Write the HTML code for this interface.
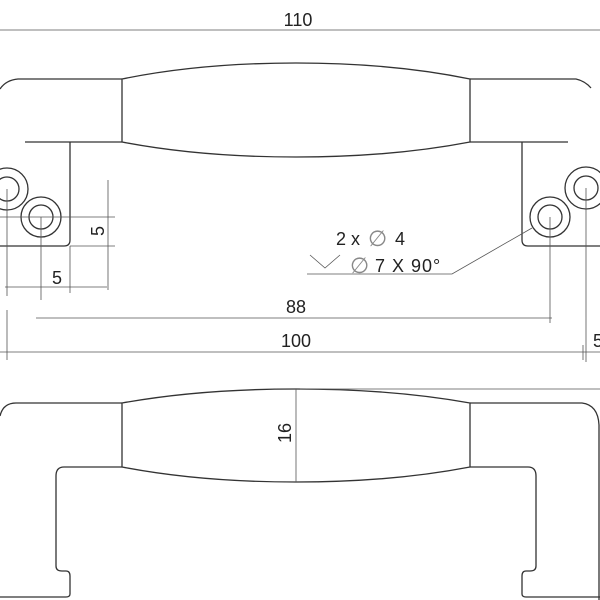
<!DOCTYPE html>
<html><head><meta charset="utf-8"><style>
html,body{margin:0;padding:0;background:#fff;width:600px;height:600px;overflow:hidden}
svg{display:block}
text{font-family:"Liberation Sans",sans-serif;fill:#222;font-size:18px}
</style></head><body>
<svg width="600" height="600" viewBox="0 0 600 600">
<g fill="none" stroke="#333" stroke-width="1.3">
<path d="M0,89 Q6,80 18,79 L122,79 M470,79 L576,79 Q585,81 591,88"/>
<path d="M122,79 Q200,63 296,63 Q392,63 470,79 L470,142 Q392,157 296,157 Q200,157 122,142 Z"/>
<path d="M25,142 L122,142 M470,142 L568,142"/>
<path d="M70,142 L70,240 Q70,246 64,246 L0,246"/>
<path d="M522,142 L522,240 Q522,246 528,246 L600,246"/>
<circle cx="7" cy="189" r="21"/><circle cx="7" cy="189" r="12"/>
<circle cx="41" cy="217" r="20"/><circle cx="41" cy="217" r="12"/>
<circle cx="586" cy="188" r="21"/><circle cx="586" cy="188" r="12"/>
<circle cx="550" cy="217" r="20"/><circle cx="550" cy="217" r="12"/>
<path d="M0,416 Q3,403 16,403 L122,403 M470,403 L582,403 Q598,405 599,425 L599,600"/>
<path d="M122,403 Q200,389 296,389 Q392,389 470,403 L470,467 Q392,482 296,482 Q200,482 122,467 Z"/>
<path d="M122,467 L64,467 Q56,467 56,476 L56,566 Q56,571 62,571 L66,571 Q70,571 70,576 L70,594 Q70,597 66,597 L0,597"/>
<path d="M470,467 L528,467 Q536,467 536,476 L536,566 Q536,571 530,571 L526,571 Q522,571 522,576 L522,594 Q522,597 526,597 L600,597"/>
</g>
<g fill="none" stroke="#555" stroke-width="0.8">
<path d="M0,30 L600,30"/>
<path d="M41,217 L115,217 M70,246 L115,246 M108,180 L108,290"/>
<path d="M7,189 L7,296 M41,217 L41,300 M70,246 L70,293 M5,287 L107,287"/>
<path d="M36,318 L552,318 M550,217 L550,323 M586,188 L586,362"/>
<path d="M7,310 L7,360 M0,352 L600,352 M583,345 L583,360"/>
<path d="M0,217 L41,217"/>
<path d="M307,274 L452,274 L532,228"/>
<path d="M310,255 L325,268 L340,255"/>
<path d="M300,389 L600,389 M296,389 L296,482"/>
</g>
<text x="298" y="26" text-anchor="middle">110</text>
<text transform="translate(104,231) rotate(-90)" text-anchor="middle">5</text>
<text x="57" y="284" text-anchor="middle">5</text>
<text x="296" y="313" text-anchor="middle">88</text>
<text x="296" y="347" text-anchor="middle">100</text>
<text x="593" y="347">5</text>
<text x="336" y="245">2 x</text>
<text x="368" y="246" style="fill:#888;font-size:22px">∅</text>
<text x="395" y="245">4</text>
<text x="350" y="273" style="fill:#888;font-size:22px">∅</text>
<text x="375" y="272" style="letter-spacing:1px">7 X 90°</text>
<text transform="translate(291,433) rotate(-90)" text-anchor="middle">16</text>
</svg>
</body></html>
